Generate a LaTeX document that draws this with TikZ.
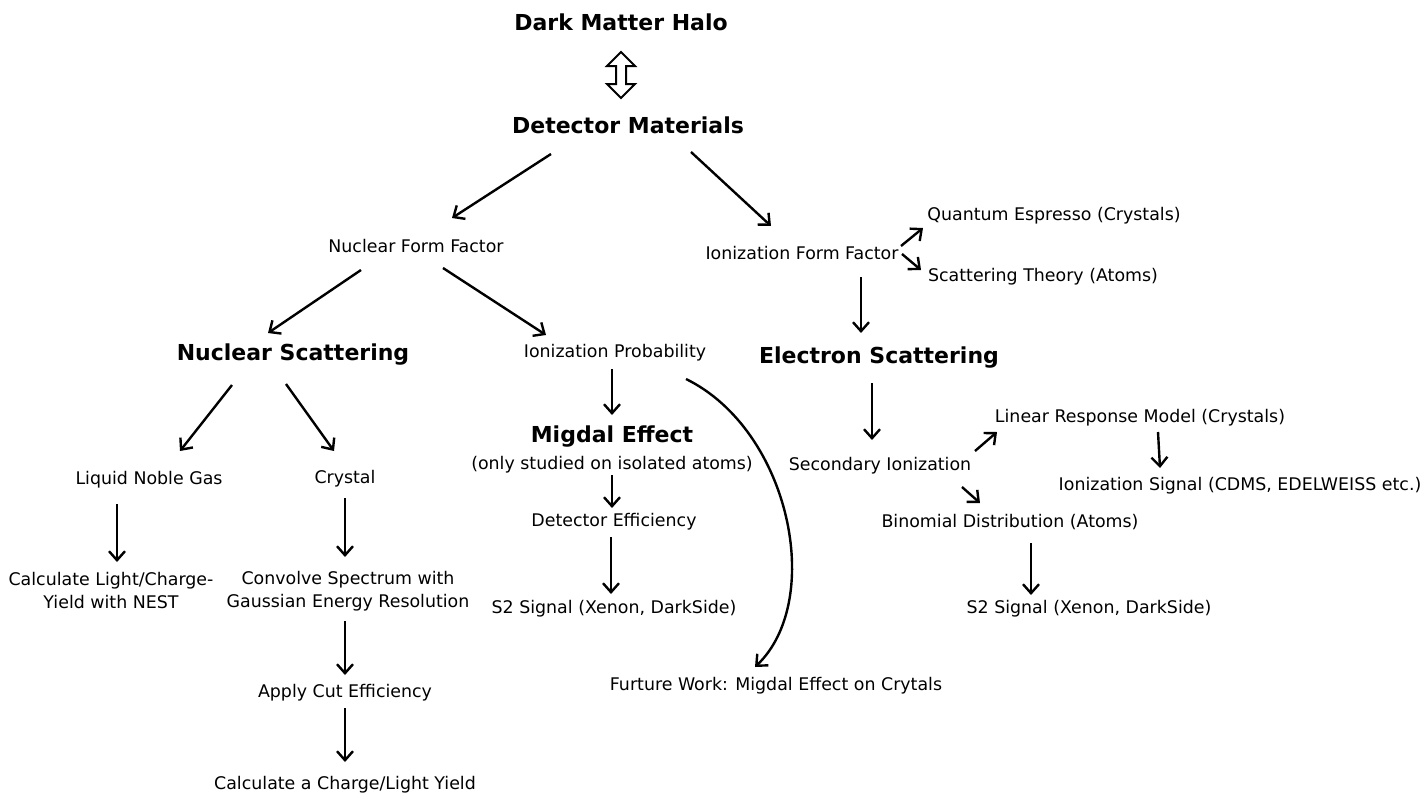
\documentclass[tikz,border=0pt]{standalone}
\usepackage{fontspec}
\setmainfont{DejaVu Sans}
\usetikzlibrary{arrows.meta,shapes.arrows}
\tikzset{
  txt/.style={inner sep=0pt, font=\fontsize{17.4}{23}\selectfont, align=center},
  ttl/.style={inner sep=0pt, font=\fontsize{22}{26}\selectfont\bfseries, align=center},
  arr/.style={line width=2.4pt, -{Straight Barb[length=9pt,width=16pt,line width=2.4pt]}},
}
\begin{document}
\begin{tikzpicture}[x=1pt,y=-1pt]
\useasboundingbox (0,0) rectangle (1426,798);
% nodes
\node[ttl] (dmh) at (621,22) {Dark Matter Halo};
\node[double arrow, draw, line width=2pt, rotate=90, minimum height=46pt, minimum width=28pt,
      double arrow head extend=9pt, double arrow head indent=0pt, inner sep=4pt, fill=white] (ud) at (621,75) {};
\node[ttl] (dm) at (628,125) {Detector Materials};
\node[txt] (nff) at (416,246) {Nuclear Form Factor};
\node[txt] (iff) at (802,253) {Ionization Form Factor};
\node[txt] (qe) at (1054,216) {Quantum Espresso (Crystals)};
\node[txt] (st) at (1043,277) {Scattering Theory (Atoms)};
\node[ttl] (ns) at (293,355) {Nuclear Scattering};
\node[txt] (ip) at (615,353) {Ionization Probability};
\node[ttl] (es) at (879,358) {Electron Scattering};
\node[txt] (lng) at (149,480) {Liquid Noble Gas};
\node[txt] (cr) at (345,479) {Crystal};
\node[ttl] (mig) at (612,437) {Migdal Effect};
\node[txt] (migs) at (612,465) {(only studied on isolated atoms)};
\node[txt] (de) at (614,522) {Detector Efficiency};
\node[txt] (calc) at (111,591) {Calculate Light/Charge-\\Yield with NEST};
\node[txt] (conv) at (348,591) {Convolve Spectrum with\\Gaussian Energy Resolution};
\node[txt] (s2a) at (614,609) {S2 Signal (Xenon, DarkSide)};
\node[txt] (fw) at (776,686) {Furture Work: Migdal Effect on Crytals};
\node[txt] (apply) at (345,693) {Apply Cut Efficiency};
\node[txt] (cy) at (345,785) {Calculate a Charge/Light Yield};
\node[txt] (sec) at (880,466) {Secondary Ionization};
\node[txt] (lrm) at (1140,418) {Linear Response Model (Crystals)};
\node[txt] (isig) at (1240,486) {Ionization Signal (CDMS, EDELWEISS etc.)};
\node[txt] (bin) at (1010,522) {Binomial Distribution (Atoms)};
\node[txt] (s2b) at (1089,609) {S2 Signal (Xenon, DarkSide)};
% connectors
\draw[arr] ([shift={(-77,29)}]dm.center) -- ([shift={(36,-28)}]nff.center);
\draw[arr] ([shift={(63,27)}]dm.center) -- ([shift={(-31,-27)}]iff.center);
\draw[arr] ([shift={(-55,24)}]nff.center) -- ([shift={(-25,-22)}]ns.center);
\draw[arr] ([shift={(27,22)}]nff.center) -- ([shift={(-69,-18)}]ip.center);
\draw[arr] ([shift={(99,-7)}]iff.center) -- ([shift={(-131,12)}]qe.center);
\draw[arr] ([shift={(100,1)}]iff.center) -- ([shift={(-122,-7)}]st.center);
\draw[arr] ([shift={(59,24)}]iff.center) -- ([shift={(-18,-25)}]es.center);
\draw[arr] ([shift={(-61,30)}]ns.center) -- ([shift={(31,-29)}]lng.center);
\draw[arr] ([shift={(-7,29)}]ns.center) -- ([shift={(-11,-28)}]cr.center);
\draw[arr] ([shift={(-3,16)}]ip.center) -- ([shift={(0,-22)}]mig.center);
\draw[arr] ([shift={(71,26)}]ip.center) .. controls (790,430) and (825,600) .. ([shift={(-21,-19)}]fw.center);
\draw[arr] ([shift={(0,10)}]migs.center) -- ([shift={(-2,-14)}]de.center);
\draw[arr] ([shift={(-3,15)}]de.center) -- ([shift={(-3,-15)}]s2a.center);
\draw[arr] ([shift={(-32,24)}]lng.center) -- ([shift={(6,-29)}]calc.center);
\draw[arr] ([shift={(0,19)}]cr.center) -- ([shift={(-3,-34)}]conv.center);
\draw[arr] ([shift={(-3,30)}]conv.center) -- ([shift={(0,-18)}]apply.center);
\draw[arr] ([shift={(0,15)}]apply.center) -- ([shift={(0,-23)}]cy.center);
\draw[arr] ([shift={(-7,25)}]es.center) -- ([shift={(-8,-26)}]sec.center);
\draw[arr] ([shift={(95,-15)}]sec.center) -- ([shift={(-143,14)}]lrm.center);
\draw[arr] ([shift={(82,21)}]sec.center) -- ([shift={(-30,-19)}]bin.center);
\draw[arr] ([shift={(18,14)}]lrm.center) -- ([shift={(-80,-18)}]isig.center);
\draw[arr] ([shift={(21,21)}]bin.center) -- ([shift={(-58,-14)}]s2b.center);
\end{tikzpicture}
\end{document}
